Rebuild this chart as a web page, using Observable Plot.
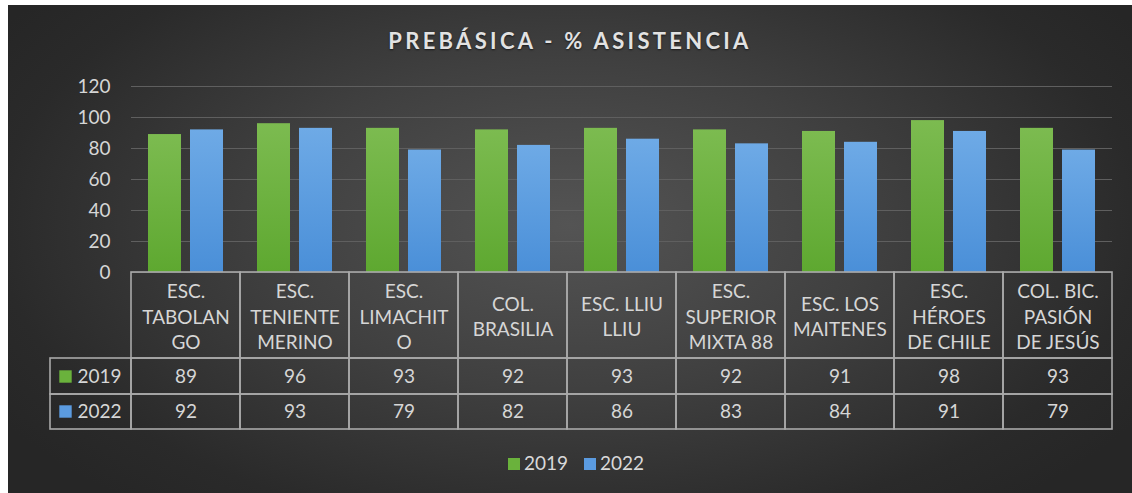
<!DOCTYPE html>
<html>
<head>
<meta charset="utf-8">
<script src="https://cdn.jsdelivr.net/npm/d3@7"></script>
<script src="https://cdn.jsdelivr.net/npm/@observablehq/plot@0.6"></script>
<style>
  html, body { margin: 0; padding: 0; background: #ffffff; }
  #wrap { position: relative; width: 1132px; height: 493px; overflow: hidden; font-family: Lato, "Open Sans", sans-serif; }
  #bg { position: absolute; left: 8px; top: 5px; width: 1124px; height: 488px;
        background: radial-gradient(ellipse 60% 75% at 50% 45%, #545454 0%, #404040 45%, #2a2a2a 85%, #262626 100%); }
  #title { position: absolute; left: 8px; width: 1124px; top: 27px; text-align: center;
           color: #e2e2e2; font-weight: bold; font-size: 22px; letter-spacing: 3.3px;
           text-shadow: 0 1px 2px rgba(0,0,0,0.6); }
  #chart { position: absolute; left: 0; top: 0; }
  #legend { position: absolute; left: 14px; width: 1124px; top: 451px; text-align: center;
            color: #d9d9d9; font-size: 19px; }
  #legend span.sw { display: inline-block; width: 12px; height: 12px; margin-right: 4px; vertical-align: 0px; }
  #legend span.item { margin: 0 8px; }
</style>
</head>
<body>
<div id="wrap">
  <div id="bg"></div>
  <div id="title">PREBÁSICA - % ASISTENCIA</div>
  <div id="chart"></div>
  <div id="legend"></div>
</div>
<script>
// ---- data ----
const schools = [
  "ESC. TABOLANGO", "ESC. TENIENTE MERINO", "ESC. LIMACHITO", "COL. BRASILIA",
  "ESC. LLIU LLIU", "ESC. SUPERIOR MIXTA 88", "ESC. LOS MAITENES",
  "ESC. HÉROES DE CHILE", "COL. BIC. PASIÓN DE JESÚS"
];
const headerLabels = [
  "ESC.\nTABOLAN\nGO", "ESC.\nTENIENTE\nMERINO", "ESC.\nLIMACHIT\nO", "COL.\nBRASILIA",
  "ESC. LLIU\nLLIU", "ESC.\nSUPERIOR\nMIXTA 88", "ESC. LOS\nMAITENES",
  "ESC.\nHÉROES\nDE CHILE", "COL. BIC.\nPASIÓN\nDE JESÚS"
];
const series = ["2019", "2022"];
const values2019 = [89, 96, 93, 92, 93, 92, 91, 98, 93];
const values2022 = [92, 93, 79, 82, 86, 83, 84, 91, 79];
const yTicks = [0, 20, 40, 60, 80, 100, 120];

const colors = { "2019": "#6ab23c", "2022": "#5b9be0" };

const rows = schools.map((s, i) => ({ school: s, label: headerLabels[i], v2019: values2019[i], v2022: values2022[i] }));

// ---- layout ----
const W = 1132, H = 493;
const mL = 131, mR = 20, mT = 86, mB = 221;
const bw = (W - mL - mR) / schools.length;   // band width
const lineCol = "#a9a9a9";
const textCol = "#d6d6d6";
const fontSize = 19;

const defs = () => {
  const d = d3.create("svg:defs");
  const mk = (id, top, bottom) => {
    const g = d.append("linearGradient").attr("id", id).attr("x1", 0).attr("y1", 0).attr("x2", 0).attr("y2", 1);
    g.append("stop").attr("offset", "0%").attr("stop-color", top);
    g.append("stop").attr("offset", "100%").attr("stop-color", bottom);
  };
  mk("g2019", "#7cbb50", "#5ea830");
  mk("g2022", "#6eaae6", "#4a8fd8");
  return d.node();
};

const txt = { fill: textCol, fontSize: fontSize, lineAnchor: "middle" };

const plot = Plot.plot({
  width: W, height: H,
  marginLeft: mL, marginRight: mR, marginTop: mT, marginBottom: mB,
  style: { background: "transparent", color: textCol, fontFamily: "Lato, 'Open Sans', sans-serif", fontSize: fontSize + "px", overflow: "visible" },
  x: { domain: schools, padding: 0, axis: null },
  y: { domain: [0, 120], ticks: yTicks },
  marks: [
    defs,
    Plot.gridY(yTicks, { stroke: "#5f5f5f", strokeOpacity: 1, strokeWidth: 1.2 }),
    Plot.axisY(yTicks, { tickSize: 0, tickPadding: 21, label: null, fontSize: fontSize, fill: textCol }),
    // bars
    Plot.barY(rows, { x: "school", y: "v2019", fill: "url(#g2019)", insetLeft: 17, insetRight: 59 }),
    Plot.barY(rows, { x: "school", y: "v2022", fill: "url(#g2022)", insetLeft: 59, insetRight: 17 }),
    // data table: header cells
    Plot.barY(rows, { x: "school", y1: () => 0, y2: () => 0, insetBottom: -86, fill: "none", stroke: lineCol, strokeWidth: 1.6 }),
    // 2019 / 2022 row cells
    Plot.barY(rows, { x: "school", y1: () => 0, y2: () => 0, dy: 86, insetBottom: -36, fill: "none", stroke: lineCol, strokeWidth: 1.6 }),
    Plot.barY(rows, { x: "school", y1: () => 0, y2: () => 0, dy: 122, insetBottom: -35, fill: "none", stroke: lineCol, strokeWidth: 1.6 }),
    // left row-label cells
    Plot.barY([schools[0]], { x: d => d, y1: () => 0, y2: () => 0, dy: 86, insetLeft: -81, insetRight: bw, insetBottom: -36, fill: "none", stroke: lineCol, strokeWidth: 1.6 }),
    Plot.barY([schools[0]], { x: d => d, y1: () => 0, y2: () => 0, dy: 122, insetLeft: -81, insetRight: bw, insetBottom: -35, fill: "none", stroke: lineCol, strokeWidth: 1.6 }),
    // header text
    Plot.text(rows, { x: "school", frameAnchor: "bottom", dy: 43, text: "label", lineHeight: 1.32, ...txt }),
    // values
    Plot.text(rows, { x: "school", frameAnchor: "bottom", dy: 104, text: "v2019", ...txt }),
    Plot.text(rows, { x: "school", frameAnchor: "bottom", dy: 139, text: "v2022", ...txt }),
    // row labels
    Plot.dot([series[0]], { frameAnchor: "bottom-left", dx: -66, dy: 104, symbol: "square", r: 7, fill: colors["2019"] }),
    Plot.dot([series[1]], { frameAnchor: "bottom-left", dx: -66, dy: 139, symbol: "square", r: 7, fill: colors["2022"] }),
    Plot.text([series[0]], { frameAnchor: "bottom-left", dx: -54, dy: 104, text: d => d, textAnchor: "start", ...txt }),
    Plot.text([series[1]], { frameAnchor: "bottom-left", dx: -54, dy: 139, text: d => d, textAnchor: "start", ...txt })
  ]
});
document.getElementById("chart").appendChild(plot);

// legend
const leg = document.getElementById("legend");
series.forEach(s => {
  const it = document.createElement("span");
  it.className = "item";
  const sw = document.createElement("span");
  sw.className = "sw";
  sw.style.background = colors[s];
  it.appendChild(sw);
  it.appendChild(document.createTextNode(s));
  leg.appendChild(it);
});
</script>
</body>
</html>
